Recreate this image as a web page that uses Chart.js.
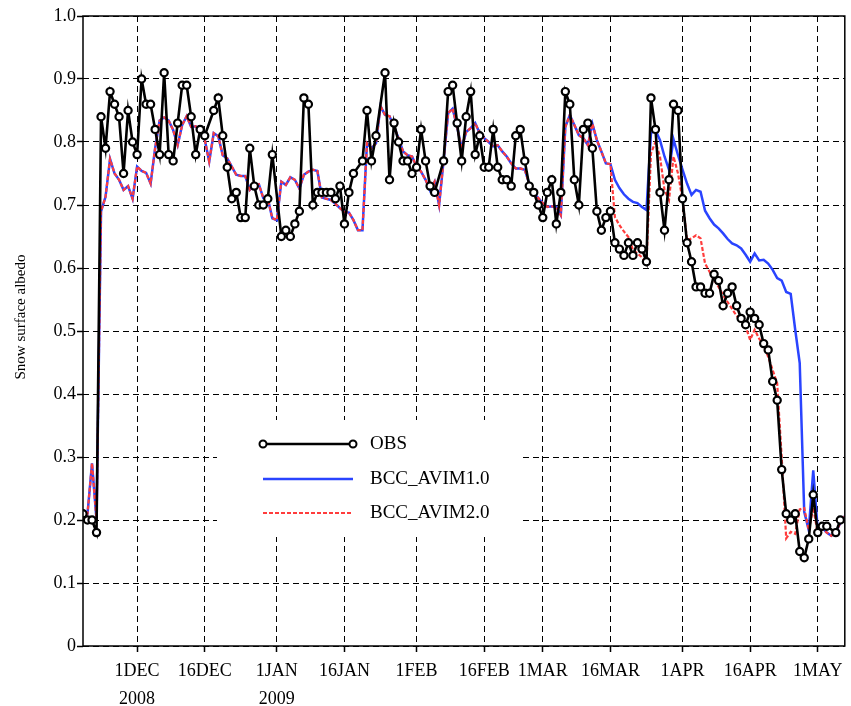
<!DOCTYPE html>
<html>
<head>
<meta charset="utf-8">
<script src="https://cdn.jsdelivr.net/npm/chart.js@4.4.1/dist/chart.umd.min.js"></script>
<style>
  html, body { margin: 0; padding: 0; background: #fff; }
  #wrap { width: 851px; height: 706px; }
</style>
</head>
<body>
<div id="wrap"><canvas id="myChart" width="851" height="706"></canvas></div>
<script>
// days counted from 1 Dec 2008 (day 0)
const X_MIN = -12;
const X_MAX = 157;

const xTickDays = [0, 15, 31, 46, 62, 77, 90, 105, 121, 136, 151];
const xTickLabels = [['1DEC', '2008'], '16DEC', ['1JAN', '2009'], '16JAN', '1FEB', '16FEB', '1MAR', '16MAR', '1APR', '16APR', '1MAY'];
const yTitle = 'Snow surface albedo';

// observations
const obsDay = [
  -12, -11, -10, -9, -8, -7, -6, -5, -4, -3, -2, -1,
  0, 1, 2, 3, 4, 5, 6, 7, 8, 9, 10, 11, 12, 13, 14, 15, 17, 18, 19,
  20, 21, 22, 23, 24, 25, 26, 27, 28, 29, 30, 32, 33, 34, 35, 36, 37, 38, 39,
  40, 41, 42, 43, 44, 45, 46, 47, 48, 50, 51, 52, 53, 55, 56, 57, 58, 59,
  60, 61, 62, 63, 64, 65, 66, 68, 69, 70, 71, 72, 73, 74, 75, 76, 77, 78, 79,
  80, 81, 82, 83, 84, 85, 86, 87, 88, 89, 90, 91, 92, 93, 94, 95, 96, 97, 98, 99,
  100, 101, 102, 103, 104, 105, 106, 107, 108, 109, 110, 111, 112, 113, 114, 115, 116, 117, 118, 119,
  120, 121, 122, 123, 124, 125, 126, 127, 128, 129, 130, 131, 132, 133, 134, 135, 136, 137, 138, 139,
  140, 141, 142, 143, 144, 145, 146, 147, 148, 149, 150, 151, 152, 153, 155, 156
];
const obsAlbedo = [
  0.21, 0.20, 0.20, 0.18, 0.84, 0.79, 0.88, 0.86, 0.84, 0.75, 0.85, 0.80,
  0.78, 0.90, 0.86, 0.86, 0.82, 0.78, 0.91, 0.78, 0.77, 0.83, 0.89, 0.89, 0.84, 0.78, 0.82, 0.81, 0.85, 0.87, 0.81,
  0.76, 0.71, 0.72, 0.68, 0.68, 0.79, 0.73, 0.70, 0.70, 0.71, 0.78, 0.65, 0.66, 0.65, 0.67, 0.69, 0.87, 0.86, 0.70,
  0.72, 0.72, 0.72, 0.72, 0.71, 0.73, 0.67, 0.72, 0.75, 0.77, 0.85, 0.77, 0.81, 0.91, 0.74, 0.83, 0.80, 0.77,
  0.77, 0.75, 0.76, 0.82, 0.77, 0.73, 0.72, 0.77, 0.88, 0.89, 0.83, 0.77, 0.84, 0.88, 0.78, 0.81, 0.76, 0.76, 0.82,
  0.76, 0.74, 0.74, 0.73, 0.81, 0.82, 0.77, 0.73, 0.72, 0.70, 0.68, 0.72, 0.74, 0.67, 0.72, 0.88, 0.86, 0.74, 0.70, 0.82,
  0.83, 0.79, 0.69, 0.66, 0.68, 0.69, 0.64, 0.63, 0.62, 0.64, 0.62, 0.64, 0.63, 0.61, 0.87, 0.82, 0.72, 0.66, 0.74, 0.86,
  0.85, 0.71, 0.64, 0.61, 0.57, 0.57, 0.56, 0.56, 0.59, 0.58, 0.54, 0.56, 0.57, 0.54, 0.52, 0.51, 0.53, 0.52, 0.51, 0.48,
  0.47, 0.42, 0.39, 0.28, 0.21, 0.20, 0.21, 0.15, 0.14, 0.17, 0.24, 0.18, 0.19, 0.19, 0.18, 0.20
];

// both model versions give the same values from day -12 to day 105
const modelStartDay = -12;
const modelShared = [
  0.20, 0.21, 0.29, 0.20, 0.69, 0.713, 0.773, 0.75, 0.74, 0.724, 0.73, 0.71,
  0.761, 0.754, 0.751, 0.734, 0.79, 0.834, 0.839, 0.834, 0.819, 0.795,
  0.827, 0.841, 0.824, 0.825, 0.816, 0.804, 0.769, 0.814, 0.809, 0.779,
  0.774, 0.761, 0.748, 0.746, 0.746, 0.724, 0.732, 0.733, 0.711, 0.71,
  0.679, 0.676, 0.737, 0.732, 0.744, 0.74, 0.726, 0.748, 0.753, 0.756,
  0.754, 0.712, 0.71, 0.708, 0.702, 0.695, 0.689, 0.688, 0.676, 0.66,
  0.66, 0.798, 0.79, 0.798, 0.857, 0.843, 0.841, 0.824, 0.806, 0.785,
  0.779, 0.777, 0.761, 0.753, 0.74, 0.723, 0.737, 0.70, 0.771, 0.846,
  0.853, 0.824, 0.79, 0.816, 0.822, 0.83, 0.814, 0.806, 0.80, 0.793,
  0.795, 0.785, 0.777, 0.766, 0.758, 0.758, 0.756, 0.734, 0.719, 0.711,
  0.703, 0.697, 0.698, 0.697, 0.684, 0.824, 0.843, 0.827, 0.811, 0.806,
  0.795, 0.829, 0.803, 0.785, 0.766, 0.765
];
// day 106 .. 157
const avim1Tail = [
  0.74, 0.727, 0.717, 0.71, 0.705, 0.703, 0.697, 0.692,
  0.814, 0.819, 0.803, 0.777, 0.756, 0.804, 0.779, 0.756, 0.734, 0.716, 0.724, 0.721,
  0.691, 0.679, 0.669, 0.663, 0.655, 0.646, 0.639, 0.636, 0.631, 0.621,
  0.61, 0.623, 0.612, 0.613, 0.607, 0.597, 0.584, 0.58, 0.562, 0.559,
  0.502, 0.449, 0.213, 0.184, 0.279, 0.184, 0.188, 0.18, 0.175, 0.181, 0.195, 0.206
];
const avim2Tail = [
  0.681, 0.668, 0.658, 0.649, 0.629, 0.623, 0.617, 0.607,
  0.782, 0.80, 0.777, 0.724, 0.708, 0.777, 0.75, 0.708, 0.644, 0.647, 0.652, 0.647,
  0.607, 0.594, 0.581, 0.57, 0.557, 0.546, 0.535, 0.524, 0.517, 0.507,
  0.486, 0.502, 0.488, 0.478, 0.459, 0.438, 0.417, 0.30, 0.171, 0.181,
  0.178, 0.217, 0.219, 0.184, 0.22, 0.178, 0.186, 0.18, 0.175, 0.181, 0.195, 0.206
];

const FONT = "'Liberation Serif', 'Times New Roman', serif";
const BLUE = '#2a44ff';
const RED = '#ff3c3c';

function toPoints(startDay, vals) {
  return vals.map((v, i) => ({ x: startDay + i, y: v }));
}

const obsPoints = obsDay.map((d, i) => ({ x: d, y: obsAlbedo[i] }));
const avim1Points = toPoints(modelStartDay, modelShared.concat(avim1Tail));
const avim2Points = toPoints(modelStartDay, modelShared.concat(avim2Tail));

// box round the plot, y title and legend inside the chart
const framePlugin = {
  id: 'frame',
  afterDraw(chart) {
    const { ctx, chartArea: a } = chart;
    ctx.save();
    ctx.strokeStyle = '#000';
    ctx.lineWidth = 1.5;
    ctx.strokeRect(a.left, a.top, a.right - a.left, a.bottom - a.top);

    // y axis title
    ctx.save();
    ctx.translate(21, 317);
    ctx.rotate(-Math.PI / 2);
    ctx.fillStyle = '#000';
    ctx.font = '15px ' + FONT;
    ctx.textAlign = 'center';
    ctx.textBaseline = 'middle';
    ctx.fillText(yTitle, 0, 0);
    ctx.restore();

    // legend
    ctx.fillStyle = '#fff';
    ctx.fillRect(217, 420, 303, 117);
    const x1 = 263, x2 = 353, tx = 370;
    const rows = [444, 479, 513];
    const ds = chart.data.datasets;

    ctx.lineWidth = 2.5;
    ctx.strokeStyle = '#000';
    ctx.beginPath(); ctx.moveTo(x1, rows[0]); ctx.lineTo(x2, rows[0]); ctx.stroke();
    [x1, x2].forEach(x => {
      ctx.beginPath();
      ctx.arc(x, rows[0], 3.5, 0, Math.PI * 2);
      ctx.fillStyle = '#fff';
      ctx.fill();
      ctx.lineWidth = 2;
      ctx.stroke();
    });

    ctx.lineWidth = 2.5;
    ctx.strokeStyle = BLUE;
    ctx.beginPath(); ctx.moveTo(x1, rows[1]); ctx.lineTo(x2, rows[1]); ctx.stroke();

    ctx.lineWidth = 2.2;
    ctx.strokeStyle = RED;
    ctx.setLineDash([4, 2]);
    ctx.beginPath(); ctx.moveTo(x1, rows[2]); ctx.lineTo(x2, rows[2]); ctx.stroke();
    ctx.setLineDash([]);

    ctx.fillStyle = '#000';
    ctx.font = '19px ' + FONT;
    ctx.textBaseline = 'middle';
    ctx.textAlign = 'left';
    ctx.fillText(ds[0].label, tx, rows[0]);
    ctx.fillText(ds[2].label, tx, rows[1]);
    ctx.fillText(ds[1].label, tx, rows[2]);
    ctx.restore();
  }
};

const ctx = document.getElementById('myChart').getContext('2d');

new Chart(ctx, {
  type: 'line',
  data: {
    datasets: [
      {
        label: 'OBS',
        data: obsPoints,
        borderColor: '#000',
        borderWidth: 2.6,
        pointRadius: 3.6,
        pointBorderWidth: 2.2,
        pointBackgroundColor: '#fff',
        pointBorderColor: '#000',
        tension: 0,
        order: 0
      },
      {
        label: 'BCC_AVIM2.0',
        data: avim2Points,
        borderColor: RED,
        borderWidth: 2.2,
        borderDash: [4, 2],
        pointRadius: 0,
        tension: 0,
        order: 1
      },
      {
        label: 'BCC_AVIM1.0',
        data: avim1Points,
        borderColor: BLUE,
        borderWidth: 2.5,
        pointRadius: 0,
        tension: 0,
        order: 2
      }
    ]
  },
  options: {
    responsive: false,
    animation: false,
    devicePixelRatio: 1,
    layout: { padding: { top: 16, right: 2, left: 0, bottom: 0 } },
    plugins: {
      legend: { display: false },
      tooltip: { enabled: false }
    },
    scales: {
      x: {
        type: 'linear',
        min: X_MIN,
        max: X_MAX,
        afterBuildTicks: (scale) => { scale.ticks = xTickDays.map(v => ({ value: v })); },
        afterFit: (scale) => { scale.height = 60; },
        grid: {
          color: '#000',
          lineWidth: 1,
          tickLength: 6,
          tickWidth: 1.5,
          tickColor: '#000',
          tickBorderDash: []
        },
        border: { display: false, dash: [6, 4] },
        ticks: {
          autoSkip: false,
          maxRotation: 0,
          padding: 5,
          color: '#000',
          font: { family: FONT, size: 18, lineHeight: 1.55 },
          callback: (v) => {
            const i = xTickDays.indexOf(v);
            return i >= 0 ? xTickLabels[i] : '';
          }
        }
      },
      y: {
        min: 0,
        max: 1,
        afterFit: (scale) => { scale.width = 83; },
        grid: {
          color: '#000',
          lineWidth: 1,
          tickLength: 6,
          tickWidth: 1.5,
          tickColor: '#000',
          tickBorderDash: []
        },
        border: { display: false, dash: [6, 4] },
        ticks: {
          stepSize: 0.1,
          padding: 1,
          color: '#000',
          font: { family: FONT, size: 18 },
          callback: (v) => (Math.abs(v) < 1e-9 ? '0' : v.toFixed(1))
        }
      }
    }
  },
  plugins: [framePlugin]
});
</script>
</body>
</html>
